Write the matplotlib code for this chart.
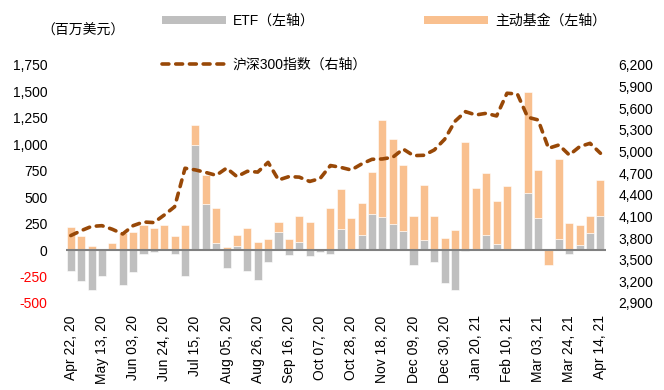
import matplotlib
matplotlib.use('Agg')
import matplotlib.pyplot as plt
from matplotlib.patches import Patch
from matplotlib.lines import Line2D
from matplotlib.ticker import FuncFormatter
import numpy as np

plt.rcParams['font.family'] = ['Liberation Sans', 'Noto Sans CJK SC']
plt.rcParams['font.size'] = 10

# 周度资金流（百万美元），2020-04-22 至 2021-04-14
etf = [-200, -290, -380, -245, 0, -330, -210, -38, -15, 0,
       -40, -245, 990, 435, 70, -170, 38, -195, -280, -115,
       175, -47, 76, -53, -18, -38, 200, 0, 142, 345,
       312, 250, 183, -140, 100, -110, -310, -378, -12, 0,
       146, 57, 0, 0, 540, 306, 0, 104, -40, 51,
       164, 319]
active = [220, 130, 35, 12, 70, 160, 170, 235, 205, 233,
          130, 237, 195, 272, 327, 30, 100, 208, 73, 105,
          87, 108, 250, 262, 15, 397, 380, 303, 300, 390,
          920, 796, 620, 322, 520, 325, 116, 194, 1025, 590,
          583, 407, 603, 13, 952, 448, -138, 760, 255, 186,
          161, 343]
# 沪深300指数
csi300 = [3835, 3903, 3962, 3972, 3922, 3857, 3972, 4023, 4015, 4120,
          4235, 4768, 4745, 4710, 4670, 4770, 4652, 4726, 4715, 4850,
          4606, 4652, 4645, 4585, 4625, 4806, 4780, 4744, 4827, 4892,
          4897, 4920, 5035, 4943, 4948, 5022, 5170, 5420, 5553, 5507,
          5530, 5493, 5808, 5798, 5475, 5438, 5045, 5091, 4952, 5068,
          5114, 4976]

tick_labels = ['Apr 22, 20', 'May 13, 20', 'Jun 03, 20', 'Jun 24, 20',
               'Jul 15, 20', 'Aug 05, 20', 'Aug 26, 20', 'Sep 16, 20',
               'Oct 07, 20', 'Oct 28, 20', 'Nov 18, 20', 'Dec 09, 20',
               'Dec 30, 20', 'Jan 20, 21', 'Feb 10, 21', 'Mar 03, 21',
               'Mar 24, 21', 'Apr 14, 21']

c_etf = '#BFBFBF'
c_act = '#F9C08F'
c_line = '#984807'
dash = (0, (1.9, 1.9))

etf = np.array(etf)
active = np.array(active)
x = np.arange(len(etf))

fig = plt.figure(figsize=(6.64, 3.90), dpi=100)
ax = fig.add_axes([0.0988, 0.2231, 0.8133, 0.6103])

# 正值叠加在ETF之上，负值从0往下
act_bottom = np.where(active >= 0, np.maximum(etf, 0), np.minimum(etf, 0))
ax.bar(x, etf, width=0.78, color=c_etf, edgecolor='white', linewidth=0.4, zorder=2)
ax.bar(x, active, bottom=act_bottom, width=0.78, color=c_act,
       edgecolor='white', linewidth=0.4, zorder=2)
ax.axhline(0, color='#808080', lw=1.5, zorder=3)

ax.set_xlim(-0.5, len(x) - 0.5)
ax.set_ylim(-500, 1750)
ax.set_yticks(np.arange(-500, 1751, 250))
ax.yaxis.set_major_formatter(FuncFormatter(lambda v, p: f'{v:,.0f}'))
ax.set_xticks(x[::3])
ax.set_xticklabels(tick_labels, rotation=90)
ax.tick_params(axis='x', length=0, pad=9)
ax.tick_params(axis='y', length=0, pad=13)
for lab in ax.get_yticklabels():
    if lab.get_text().startswith('-'):
        lab.set_color('red')
for s in ax.spines.values():
    s.set_visible(False)

ax2 = ax.twinx()
ax2.plot(x, csi300, color=c_line, lw=2.6, ls=dash,
         dash_capstyle='round', zorder=4)
ax2.set_ylim(2900, 6200)
ax2.set_yticks(np.arange(2900, 6201, 300))
ax2.yaxis.set_major_formatter(FuncFormatter(lambda v, p: f'{v:,.0f}'))
ax2.tick_params(axis='y', length=0, pad=9)
for s in ax2.spines.values():
    s.set_visible(False)

# 图例
handles = [Patch(facecolor=c_etf, edgecolor='none'),
           Line2D([], [], color=c_line, lw=2.6, ls=dash, dash_capstyle='round'),
           Patch(facecolor=c_act, edgecolor='none')]
labels = ['ETF（左轴）', '沪深300指数（右轴）', '主动基金（左轴）']
fig.legend(handles, labels, ncol=2, loc='upper left',
           bbox_to_anchor=(162 / 664, 1 - 14 / 390), frameon=False,
           borderpad=0, borderaxespad=0, handlelength=4.6, handleheight=0.55,
           handletextpad=0.5, columnspacing=4.1, labelspacing=2.1)

fig.text(41 / 664, 1 - 31 / 390, '（百万美元）', ha='left', va='center')

plt.savefig('out.png', dpi=100)
